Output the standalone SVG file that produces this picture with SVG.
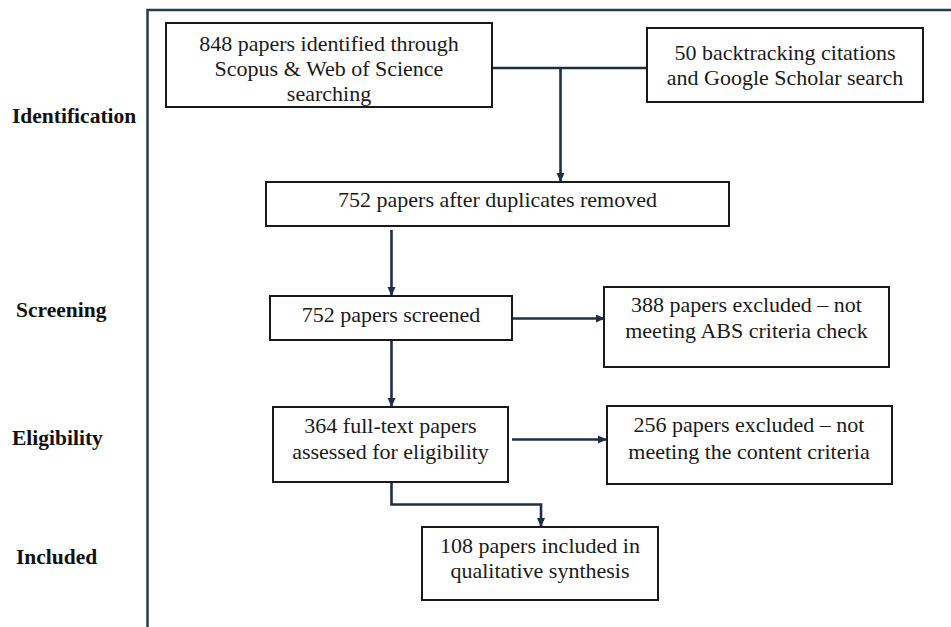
<svg xmlns="http://www.w3.org/2000/svg" width="951" height="627" viewBox="0 0 951 627">
  <style>
    .box { fill: #ffffff; stroke: #1a1a1a; stroke-width: 2; }
    .txt { font-family: "Times New Roman", "Liberation Serif", Tinos, "DejaVu Serif", serif; font-size: 22px; font-weight: normal; fill: #1a1a1a; text-anchor: middle; }
    .stage { font-family: "Times New Roman", "Liberation Serif", Tinos, "DejaVu Serif", serif; font-size: 21.5px; font-weight: bold; fill: #111111; }
    .frame { fill: none; stroke: #2b3a4c; stroke-width: 2.5; }
    .link { fill: none; stroke: #1c2f48; stroke-width: 2.6; }
  </style>
  <defs>
    <marker id="arrow" markerUnits="userSpaceOnUse" markerWidth="10" markerHeight="10" viewBox="0 0 10 10" refX="9" refY="5" orient="auto">
      <path d="M0,1 L9,5 L0,9 Z" fill="#1c2f48"/>
    </marker>
  </defs>

  <rect width="951" height="627" fill="#ffffff"/>

  <!-- outer frame: top and left rules -->
  <path class="frame" d="M951,10 L147.5,10 L147.5,627"/>

  <!-- stage labels -->
  <g id="stages">
    <text class="stage" x="12" y="123">Identification</text>
    <text class="stage" x="16" y="317">Screening</text>
    <text class="stage" x="12" y="445">Eligibility</text>
    <text class="stage" x="16" y="564">Included</text>
  </g>

  <!-- connectors -->
  <g id="connectors">
    <path class="link" d="M492,68 L647,68"/>
    <path class="link" d="M560.5,68 L560.5,182" marker-end="url(#arrow)"/>
    <path class="link" d="M391.5,230 L391.5,296" marker-end="url(#arrow)"/>
    <path class="link" d="M512,318.5 L605,318.5" marker-end="url(#arrow)"/>
    <path class="link" d="M391.5,340 L391.5,407" marker-end="url(#arrow)"/>
    <path class="link" d="M512,439.5 L607,439.5" marker-end="url(#arrow)"/>
    <path class="link" d="M391.5,482 L391.5,504.5 L541,504.5 L541,527" marker-end="url(#arrow)"/>
  </g>

  <g id="identified">
    <rect class="box" x="166" y="23" width="326" height="84"/>
    <text class="txt" x="329" y="51">848 papers identified through</text>
    <text class="txt" x="329" y="76">Scopus &amp; Web of Science</text>
    <text class="txt" x="329" y="101">searching</text>
  </g>

  <g id="other-sources">
    <rect class="box" x="647" y="28" width="276" height="74"/>
    <text class="txt" x="785" y="60">50 backtracking citations</text>
    <text class="txt" x="785" y="85">and Google Scholar search</text>
  </g>

  <g id="deduplicated">
    <rect class="box" x="266" y="182" width="463" height="44"/>
    <text class="txt" x="497.5" y="207">752 papers after duplicates removed</text>
  </g>

  <g id="screened">
    <rect class="box" x="270" y="296" width="242" height="44"/>
    <text class="txt" x="391" y="322">752 papers screened</text>
  </g>

  <g id="excluded-abs">
    <rect class="box" x="604" y="287" width="285" height="80"/>
    <text class="txt" x="746.5" y="312">388 papers excluded – not</text>
    <text class="txt" x="746.5" y="338">meeting ABS criteria check</text>
  </g>

  <g id="full-text">
    <rect class="box" x="273" y="407" width="235" height="75"/>
    <text class="txt" x="390.5" y="433">364 full-text papers</text>
    <text class="txt" x="390.5" y="459">assessed for eligibility</text>
  </g>

  <g id="excluded-content">
    <rect class="box" x="607" y="406" width="285" height="78"/>
    <text class="txt" x="749" y="432">256 papers excluded – not</text>
    <text class="txt" x="749" y="459">meeting the content criteria</text>
  </g>

  <g id="included">
    <rect class="box" x="422" y="527" width="236" height="73"/>
    <text class="txt" x="540" y="553">108 papers included in</text>
    <text class="txt" x="540" y="578">qualitative synthesis</text>
  </g>
</svg>
